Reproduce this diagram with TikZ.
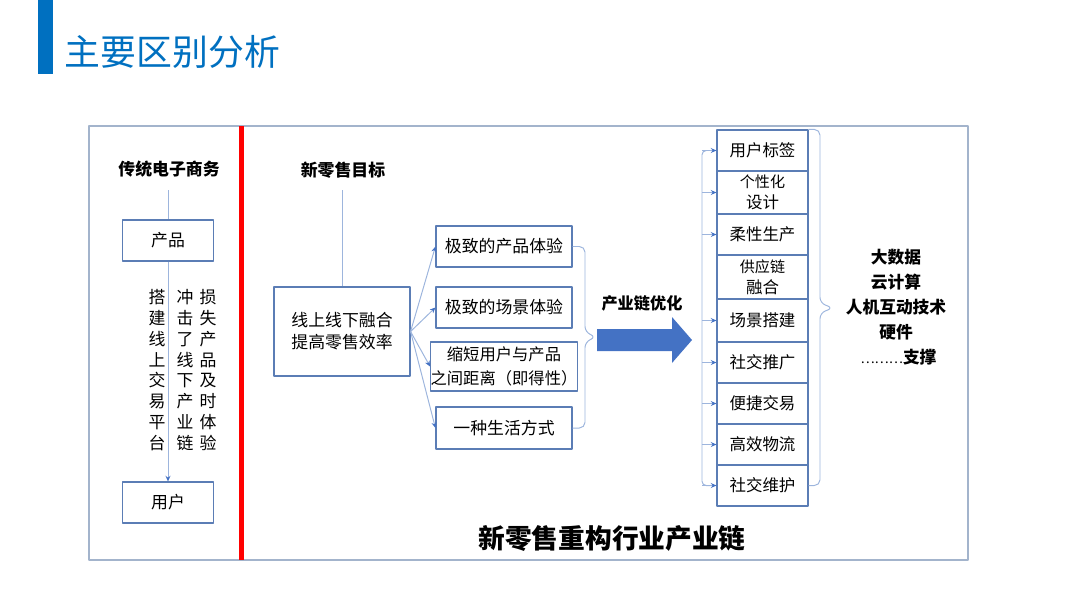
\documentclass[tikz,border=0pt]{standalone}
\usepackage{fontspec}
\setmainfont{Noto Sans CJK SC}
\usetikzlibrary{arrows.meta,calc}
\definecolor{titleblue}{HTML}{0070C0}
\definecolor{boxline}{HTML}{5B7DB5}
\definecolor{linkline}{HTML}{9DB5DD}
\definecolor{arrowblue}{HTML}{4472C4}
\definecolor{frameline}{HTML}{A3B4CC}
\begin{document}
\begin{tikzpicture}[x=0.025cm, y=-0.025cm, line join=round,
    box/.style={draw=boxline, line width=0.8pt, inner sep=0pt, align=center, font=\fontsize{12}{15.6}\selectfont},
    head/.style={font=\bfseries\fontsize{12}{15}\selectfont},
    link/.style={draw=linkline, line width=0.7pt},
    tip/.style={-{Stealth[length=4pt,width=3.5pt,fill=arrowblue,color=arrowblue]}},
    vtext/.style={align=center, inner sep=0pt, font=\fontsize{12}{14.8}\selectfont}]
    \useasboundingbox (0,0) rectangle (1080,607);
    % title
    \fill[titleblue] (38,0) rectangle (53,74);
    \node[anchor=west, text=titleblue, font=\fontsize{25.5}{28}\selectfont] (title) at (60,52) {主要区别分析};
    % frame and divider
    \draw[frameline, line width=0.8pt] (89,126) rectangle (968,560);
    \fill[red] (239,126) rectangle (244,560);
    % traditional e-commerce
    \node[head] (trad) at (169,169) {传统电子商务};
    \node[box, minimum width=91*0.025cm, minimum height=41*0.025cm] (prod) at (168,240.5) {产品};
    \node[box, minimum width=91*0.025cm, minimum height=41*0.025cm] (user) at (168,502.5) {用户};
    \draw[link] (168,190) -- (prod.north);
    \draw[link, tip] (prod.south) -- (user.north);
    \node[vtext] (v1) at (157,370) {搭\\建\\线\\上\\交\\易\\平\\台};
    \node[vtext] (v2) at (185,370) {冲\\击\\了\\线\\下\\产\\业\\链};
    \node[vtext] (v3) at (208,370) {损\\失\\产\\品\\及\\时\\体\\验};
    % new retail goal
    \node[head] (goal) at (343,170) {新零售目标};
    \node[box, minimum width=136*0.025cm, minimum height=89*0.025cm] (fuse) at (342,331.5) {线上线下融合\\提高零售效率};
    \draw[link] (342,190) -- (fuse.north);
    \node[box, minimum width=136*0.025cm, minimum height=41*0.025cm] (g1) at (504,246.5) {极致的产品体验};
    \node[box, minimum width=136*0.025cm, minimum height=41*0.025cm] (g2) at (504,307.5) {极致的场景体验};
    \node[box, minimum width=136*0.025cm, minimum height=49*0.025cm, font=\fontsize{11.6}{17}\selectfont] (g3) at (504,366.5) {缩短用户与产品\\之间距离（即得性）};
    \node[box, minimum width=136*0.025cm, minimum height=42*0.025cm] (g4) at (504,428) {一种生活方式};
    \foreach \g in {g1,g2,g3,g4}
        \draw[link, tip] (fuse.east) -- (\g.west);
    \coordinate (lbr) at (585,337);
    \coordinate (ltip) at (596,337);
    \draw[link, rounded corners=4pt] (g1.east) -| ($(lbr)+(0,-5)$) -- (ltip) -- ($(lbr)+(0,5)$) |- (g4.east);
    % industry chain
    \node[head, font=\bfseries\fontsize{11.5}{14}\selectfont] (opt) at (642,303) {产业链优化};
    \fill[arrowblue] (597,329) -- (672,329) -- (672,317) -- (692,340) -- (672,363) -- (672,351) -- (597,351) -- cycle;
    \foreach \n/\ya/\yb/\t in {r1/130/171/用户标签, r2/171/214/{\fontsize{10.7}{15.5}\selectfont 个性化\\设计}, r3/214/255/柔性生产, r4/255/299/{\fontsize{10.7}{15.5}\selectfont 供应链\\融合}, r5/299/342/场景搭建, r6/342/383/社交推广, r7/383/424/便捷交易, r8/424/465/高效物流, r9/465/506/社交维护}
        \node[box, minimum width=91*0.025cm, minimum height={(\yb-\ya)*0.025cm}, font=\fontsize{11.7}{15}\selectfont] (\n) at (762.5,{(\ya+\yb)/2}) {\t};
    \coordinate (bus) at (702,300);
    \draw[link, rounded corners=3pt] ($(r1.west)+(-6,0)$) -- (r1.west -| bus) -- (r9.west -| bus) -- ($(r9.west)+(-6,0)$);
    \foreach \n in {r1,r2,r3,r5,r6,r7,r8,r9}
        \draw[link, tip] (\n.west -| bus) -- (\n.west);
    \coordinate (rbr) at (820,308);
    \coordinate (rtip) at (833,308);
    \draw[link, rounded corners=4pt] (r1.north east) -| ($(rbr)+(0,-5)$) -- (rtip) -- ($(rbr)+(0,5)$) |- (r9.east);
    \node[align=center, font=\bfseries\fontsize{11.9}{17.8}\selectfont] (tech) at (896,307) {大数据\\云计算\\人机互动技术\\硬件\\\hspace*{0.3em}{\mdseries\fontsize{9.5}{10}\selectfont ………}支撑};
    % bottom caption
    \node[font=\bfseries\fontsize{19}{22}\selectfont] (cap) at (612,538) {新零售重构行业产业链};
\end{tikzpicture}
\end{document}
